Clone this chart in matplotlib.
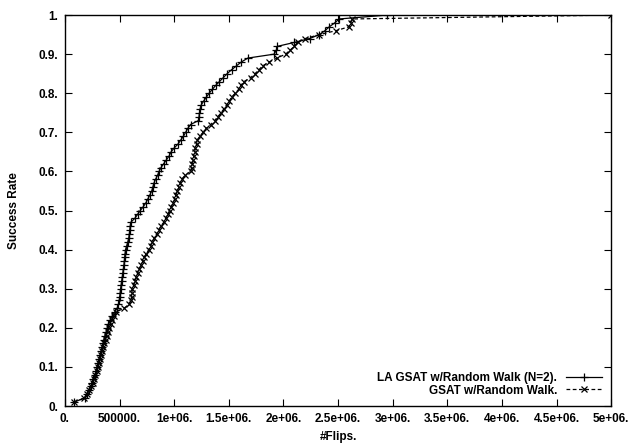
import matplotlib
matplotlib.use("Agg")
import matplotlib.pyplot as plt

plt.rcParams['font.family'] = ['Liberation Sans', 'DejaVu Sans']
plt.rcParams['font.weight'] = 'bold'

# success rate levels (fraction of solved runs)
rate = [0.01, 0.02, 0.03, 0.04, 0.05, 0.06, 0.07, 0.08, 0.09, 0.10,
        0.11, 0.12, 0.13, 0.14, 0.15, 0.16, 0.17, 0.18, 0.19, 0.20,
        0.21, 0.22, 0.23, 0.24, 0.25, 0.26, 0.27, 0.28, 0.29, 0.30,
        0.31, 0.32, 0.33, 0.34, 0.35, 0.36, 0.37, 0.38, 0.39, 0.40,
        0.41, 0.42, 0.43, 0.44, 0.45, 0.46, 0.47, 0.48, 0.49, 0.50,
        0.51, 0.52, 0.53, 0.54, 0.55, 0.56, 0.57, 0.58, 0.59, 0.60,
        0.61, 0.62, 0.63, 0.64, 0.65, 0.66, 0.67, 0.68, 0.69, 0.70,
        0.71, 0.72, 0.73, 0.74, 0.75, 0.76, 0.77, 0.78, 0.79, 0.80,
        0.81, 0.82, 0.83, 0.84, 0.85, 0.86, 0.87, 0.88, 0.89, 0.90,
        0.91, 0.92, 0.93, 0.94, 0.95, 0.96, 0.97, 0.98, 0.99, 1.00]

# flips (thousands) for LA GSAT w/Random Walk (N=2)
la_gsat = [80, 180, 205, 220, 238, 250, 262, 275, 286, 296,
           305, 315, 326, 335, 343, 350, 358, 366, 378, 388,
           398, 415, 432, 455, 478, 490, 497, 502, 506, 510,
           515, 520, 525, 530, 535, 540, 544, 547, 551, 555,
           566, 576, 585, 590, 594, 598, 603, 640, 665, 690,
           718, 742, 760, 778, 795, 805, 815, 830, 848, 862,
           880, 905, 930, 955, 972, 1000, 1035, 1060, 1085, 1105,
           1125, 1150, 1222, 1228, 1232, 1238, 1248, 1270, 1295, 1320,
           1350, 1380, 1415, 1450, 1485, 1525, 1570, 1615, 1675, 1915,
           1935, 1945, 2100, 2240, 2330, 2380, 2420, 2470, 2510, 2950]

# flips (thousands) for GSAT w/Random Walk
gsat = [80, 175, 200, 225, 240, 255, 268, 280, 292, 303,
        312, 322, 332, 342, 352, 362, 372, 382, 392, 405,
        418, 432, 446, 465, 540, 590, 605, 610, 614, 618,
        630, 645, 655, 665, 680, 698, 712, 725, 745, 768,
        785, 800, 820, 840, 860, 878, 905, 922, 940, 958,
        975, 992, 1005, 1015, 1030, 1045, 1058, 1070, 1100, 1150,
        1160, 1168, 1175, 1180, 1188, 1195, 1205, 1212, 1235, 1265,
        1295, 1335, 1370, 1400, 1430, 1455, 1480, 1505, 1525, 1560,
        1590, 1610, 1640, 1700, 1740, 1775, 1810, 1870, 1940, 2020,
        2060, 2100, 2130, 2200, 2330, 2480, 2600, 2615, 2630, 5000]

xticks = [0, 500000, 1000000, 1500000, 2000000, 2500000, 3000000,
          3500000, 4000000, 4500000, 5000000]
xtick_labels = ['0.', '500000.', '1e+06.', '1.5e+06.', '2e+06.', '2.5e+06.',
                '3e+06.', '3.5e+06.', '4e+06.', '4.5e+06.', '5e+06.']
yticks = [0, 0.1, 0.2, 0.3, 0.4, 0.5, 0.6, 0.7, 0.8, 0.9, 1.0]
ytick_labels = ['0.', '0.1.', '0.2.', '0.3.', '0.4.', '0.5.',
                '0.6.', '0.7.', '0.8.', '0.9.', '1.']

fig = plt.figure(figsize=(6.36, 4.43), dpi=100)
ax = fig.add_axes([0.102, 0.0835, 0.859, 0.8825])

ax.plot([v * 1000 for v in la_gsat], rate, color='black', linewidth=0.9,
        marker='+', markersize=6, markeredgewidth=0.9,
        label='LA GSAT w/Random Walk (N=2).')
ax.plot([v * 1000 for v in gsat], rate, color='black', linewidth=0.9,
        linestyle=(0, (3, 2)), marker='x', markersize=5, markeredgewidth=0.9,
        label='GSAT w/Random Walk.')

ax.set_xlim(0, 5000000)
ax.set_ylim(0, 1)
ax.set_xticks(xticks)
ax.set_xticklabels(xtick_labels)
ax.set_yticks(yticks)
ax.set_yticklabels(ytick_labels)
ax.tick_params(direction='in', length=5, width=0.8, top=True, right=True,
               labelsize=8.5, pad=5)
for s in ax.spines.values():
    s.set_linewidth(1.0)

ax.set_xlabel('#Flips.', fontsize=8.5, fontweight='bold', labelpad=4)
ax.set_ylabel('Success Rate', fontsize=8.5, fontweight='bold', labelpad=13)

ax.legend(loc='lower right', frameon=False, markerfirst=False, fontsize=8.5,
          handlelength=3.0, handletextpad=0.8, labelspacing=0.05,
          borderaxespad=0.6, borderpad=0.2)

fig.savefig('out.png', dpi=100)
